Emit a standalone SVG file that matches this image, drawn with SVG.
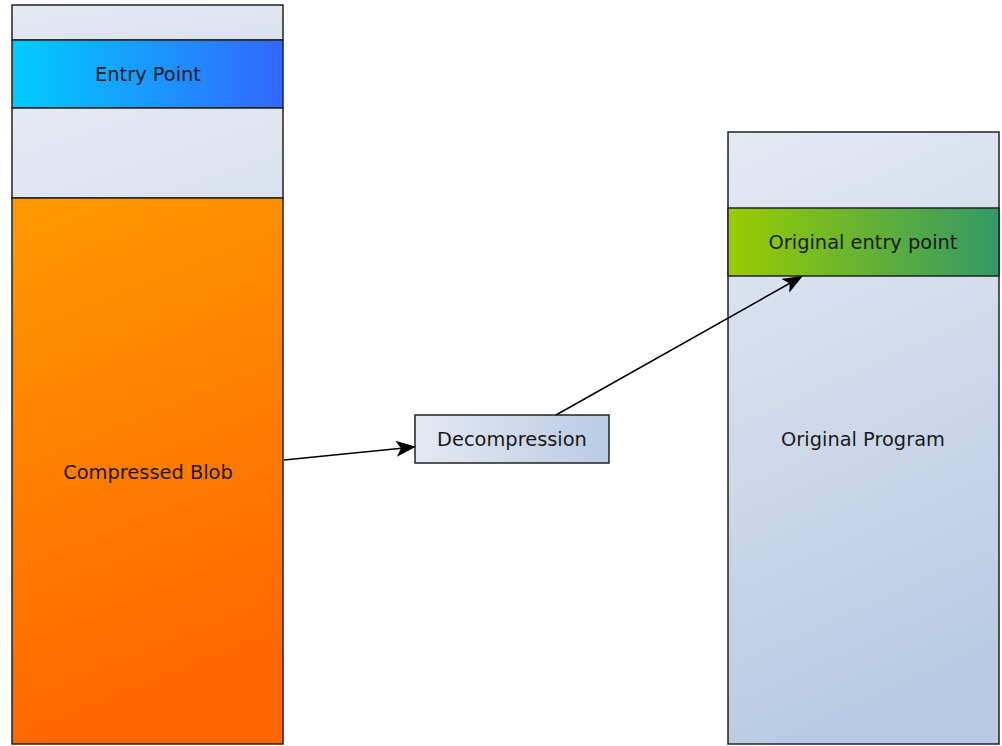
<svg xmlns="http://www.w3.org/2000/svg" width="1002" height="746" viewBox="0 0 1002 746">
<style>
.box{stroke:#222;stroke-width:1.5}
.lbl{font-family:"DejaVu Sans",sans-serif;font-size:19.4px;fill:#1a1a1a;text-anchor:middle;dominant-baseline:central}
.conn{stroke:#000;stroke-width:1.5;fill:none;marker-end:url(#ah)}
</style>
<defs>
<linearGradient id="gray" x1="0" y1="0" x2="0.2" y2="1">
<stop offset="0" stop-color="#e4e9f3"/><stop offset="1" stop-color="#b9cbe4"/>
</linearGradient>
<linearGradient id="grayS" x1="0" y1="0" x2="1" y2="1">
<stop offset="0" stop-color="#e4e9f3"/><stop offset="1" stop-color="#dae2ef"/>
</linearGradient>
<linearGradient id="blue" x1="0" y1="0" x2="1" y2="0">
<stop offset="0" stop-color="#00ccff"/><stop offset="1" stop-color="#3366ff"/>
</linearGradient>
<linearGradient id="green" x1="0" y1="0" x2="1" y2="0">
<stop offset="0" stop-color="#99cc00"/><stop offset="1" stop-color="#339966"/>
</linearGradient>
<linearGradient id="orange" x1="0" y1="0" x2="0.2" y2="1">
<stop offset="0" stop-color="#ff9900"/><stop offset="1" stop-color="#ff6600"/>
</linearGradient>
<linearGradient id="dec" x1="0" y1="0" x2="1" y2="0">
<stop offset="0" stop-color="#e4e9f3"/><stop offset="1" stop-color="#b9cbe4"/>
</linearGradient>
<marker id="ah" viewBox="0 0 20 16" refX="18" refY="8" markerWidth="20" markerHeight="16" markerUnits="userSpaceOnUse" orient="auto">
<path d="M0,0 L20,8 L0,16 L5,8 Z" fill="#000"/>
</marker>
</defs>
<g id="left-top"><rect class="box" x="12" y="5" width="271" height="35" fill="url(#grayS)"/></g>
<g id="entry-point"><rect class="box" x="12" y="40" width="271" height="68" fill="url(#blue)"/><text class="lbl" x="148" y="74">Entry Point</text></g>
<g id="left-gap"><rect class="box" x="12" y="108" width="271" height="90" fill="url(#grayS)"/></g>
<g id="compressed-blob"><rect class="box" x="12" y="198" width="271" height="546" fill="url(#orange)"/><text class="lbl" x="148" y="472">Compressed Blob</text></g>
<g id="decompression"><rect class="box" x="415" y="415" width="194" height="48" fill="url(#dec)"/><text class="lbl" x="512" y="439">Decompression</text></g>
<g id="original-program"><rect class="box" x="728" y="132" width="271" height="612" fill="url(#gray)"/><text class="lbl" x="863" y="439">Original Program</text></g>
<g id="original-entry"><rect class="box" x="728" y="208" width="271" height="68" fill="url(#green)"/><text class="lbl" x="863" y="242">Original entry point</text></g>
<g id="connectors">
<line class="conn" x1="284" y1="460" x2="414" y2="447"/>
<line class="conn" x1="556" y1="415" x2="801" y2="277"/>
</g>
</svg>
